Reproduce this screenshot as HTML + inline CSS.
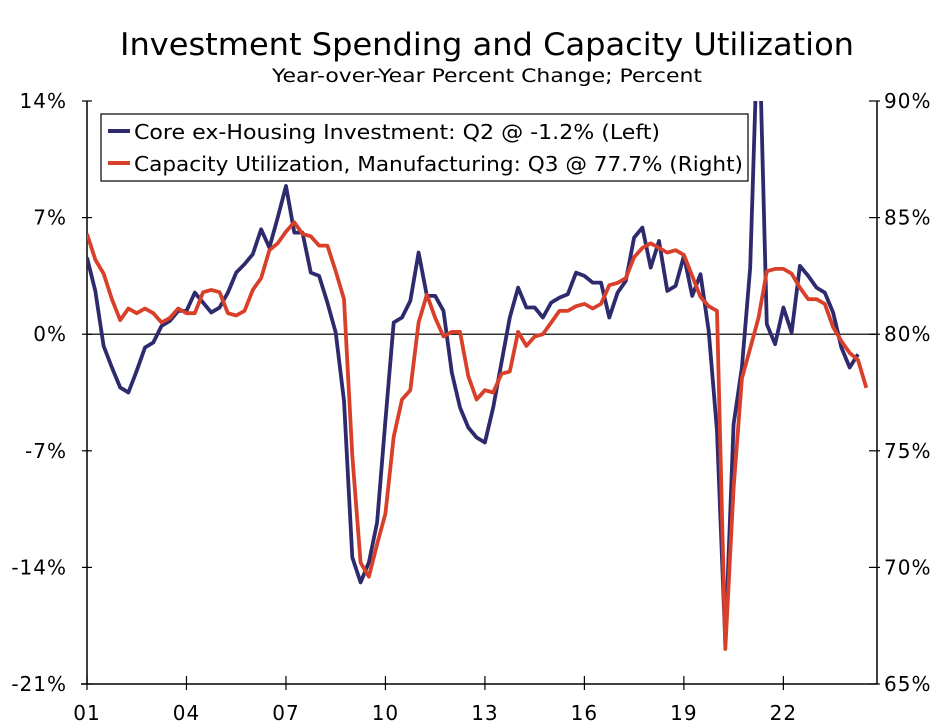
<!DOCTYPE html>
<html><head><meta charset="utf-8"><style>
html,body{margin:0;padding:0;background:#fff;}
svg{display:block;font-family:"DejaVu Sans","Liberation Sans",sans-serif;}
</style></head><body>
<svg id="chart" width="949" height="727" viewBox="0 0 949 727">
<text x="487" y="55" font-size="31" text-anchor="middle" textLength="734" lengthAdjust="spacingAndGlyphs" fill="#000">Investment Spending and Capacity Utilization</text>
<text x="487" y="82" font-size="19" text-anchor="middle" textLength="430" lengthAdjust="spacingAndGlyphs" fill="#000">Year-over-Year Percent Change; Percent</text>
<defs><clipPath id="plotclip"><rect x="87" y="101" width="790" height="583"/></clipPath></defs>
<g id="axes"></g>
<g id="series" clip-path="url(#plotclip)"></g>
<g>
<rect x="101" y="114" width="647" height="67" fill="#fff" stroke="#000" stroke-width="1.2"/>
<line x1="108" y1="131" x2="130" y2="131" stroke="#2e2a6e" stroke-width="4"/>
<text x="134" y="139" font-size="20" textLength="526" lengthAdjust="spacingAndGlyphs">Core ex-Housing Investment: Q2 @ -1.2% (Left)</text>
<line x1="108" y1="163" x2="130" y2="163" stroke="#d9402a" stroke-width="4"/>
<text x="134" y="171" font-size="20" textLength="609" lengthAdjust="spacingAndGlyphs">Capacity Utilization, Manufacturing: Q3 @ 77.7% (Right)</text>
</g>
</svg>
<script>
const investment = [4.6,2.6,-0.7,-2.0,-3.2,-3.5,-2.2,-0.8,-0.5,0.5,0.8,1.4,1.4,2.5,1.9,1.3,1.6,2.5,3.7,4.2,4.8,6.3,5.2,7.0,8.9,6.1,6.1,3.7,3.5,1.9,0.1,-4.0,-13.4,-14.9,-13.7,-11.3,-5.2,0.7,1.0,2.0,4.9,2.3,2.3,1.4,-2.3,-4.4,-5.6,-6.2,-6.5,-4.4,-1.7,1.0,2.8,1.6,1.6,1.0,1.9,2.2,2.4,3.7,3.5,3.1,3.1,1.0,2.5,3.2,5.8,6.4,4.0,5.6,2.6,2.9,4.7,2.3,3.6,0.2,-5.8,-18.5,-5.4,-2.0,4.0,20.0,0.6,-0.6,1.6,0.1,4.1,3.5,2.8,2.5,1.3,-0.8,-2.0,-1.2];
const capacity = [84.3,83.2,82.6,81.5,80.6,81.1,80.9,81.1,80.9,80.5,80.7,81.1,80.9,80.9,81.8,81.9,81.8,80.9,80.8,81.0,81.9,82.4,83.6,83.9,84.4,84.8,84.3,84.2,83.8,83.8,82.7,81.5,74.8,70.2,69.6,71.0,72.3,75.6,77.2,77.6,80.5,81.7,80.7,79.9,80.1,80.1,78.2,77.2,77.6,77.5,78.3,78.4,80.1,79.5,79.9,80.0,80.5,81.0,81.0,81.2,81.3,81.1,81.3,82.1,82.2,82.4,83.3,83.7,83.9,83.7,83.5,83.6,83.4,82.5,81.6,81.2,81.0,66.5,73.4,78.1,79.4,80.7,82.7,82.8,82.8,82.6,82.0,81.5,81.5,81.3,80.3,79.7,79.2,78.9,77.7];
const leftTicks = [14,7,0,-7,-14,-21];
const leftTickLabels = ["14%","7%","0%","-7%","-14%","-21%"];
const rightTicks = [90,85,80,75,70,65];
const rightTickLabels = ["90%","85%","80%","75%","70%","65%"];
const xTickQuarters = [0,12,24,36,48,60,72,84];
const xTickLabels = ["01","04","07","10","13","16","19","22"];

const X0=87, DX=8.29, TOP=101, BOT=684, LEFTX=87, RIGHTX=877;
function xq(i){return X0+i*DX;}
function yL(v){return TOP+(14-v)/35*(BOT-TOP);}
function yR(v){return TOP+(90-v)/25*(BOT-TOP);}
const NS="http://www.w3.org/2000/svg";
function mk(tag,attrs,parent){const e=document.createElementNS(NS,tag);for(const k in attrs)e.setAttribute(k,attrs[k]);parent.appendChild(e);return e;}
const axes=document.getElementById('axes');
const series=document.getElementById('series');

let e;
e=mk('line',{x1:LEFTX,y1:TOP,x2:LEFTX,y2:BOT,stroke:'#000','stroke-width':1.5},axes);


e=mk('line',{x1:RIGHTX,y1:TOP,x2:RIGHTX,y2:BOT,stroke:'#000','stroke-width':1.5},axes);


e=mk('line',{x1:LEFTX-6,y1:BOT,x2:RIGHTX,y2:BOT,stroke:'#000','stroke-width':1.5},axes);


e=mk('line',{x1:LEFTX,y1:yL(0),x2:RIGHTX,y2:yL(0),stroke:'#333','stroke-width':1.5},axes);



leftTicks.forEach((v,i)=>{
  const y=yL(v);
  const t=mk('line',{x1:LEFTX-5,y1:y,x2:LEFTX+5,y2:y,stroke:'#000','stroke-width':1.2},axes);
  
  
  const l=mk('text',{x:67,y:y+7,'font-size':20,'letter-spacing':1,'text-anchor':'end'},axes);
  l.textContent=leftTickLabels[i];
  
  
});
rightTicks.forEach((v,i)=>{
  const y=yR(v);
  const t=mk('line',{x1:RIGHTX-8,y1:y,x2:RIGHTX+3,y2:y,stroke:'#000','stroke-width':1.2},axes);
  
  
  const l=mk('text',{x:884,y:y+7,'font-size':20,'letter-spacing':1,'text-anchor':'start'},axes);
  l.textContent=rightTickLabels[i];
  
  
});
xTickQuarters.forEach((q,i)=>{
  const x=xq(q);
  const t=mk('line',{x1:x,y1:BOT-8,x2:x,y2:BOT+6,stroke:'#000','stroke-width':1.2},axes);
  
  
  const l=mk('text',{x:x,y:720,'font-size':20,'letter-spacing':1,'text-anchor':'middle'},axes);
  l.textContent=xTickLabels[i];
  
  
});

const capPts=capacity.map((v,i)=>xq(i).toFixed(1)+','+yR(v).toFixed(1)).join(' ');
const p1=mk('polyline',{points:capPts,fill:'none',stroke:'#d9402a','stroke-width':3.8,'stroke-linejoin':'round'},series);


const invPts=investment.map((v,i)=>xq(i).toFixed(1)+','+yL(v).toFixed(1)).join(' ');
const p2=mk('polyline',{points:invPts,fill:'none',stroke:'#2e2a6e','stroke-width':3.8,'stroke-linejoin':'round'},series);


series.insertBefore(p2,p1);
</script>
</body></html>
